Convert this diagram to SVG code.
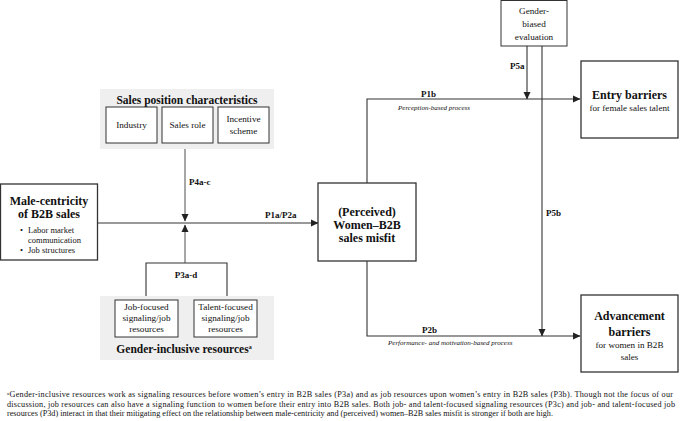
<svg xmlns="http://www.w3.org/2000/svg" width="685" height="421" viewBox="0 0 685 421">
<defs>
<marker id="ah" markerWidth="8" markerHeight="8" refX="7" refY="4" orient="auto" markerUnits="userSpaceOnUse">
<path d="M0,0.5 L7.5,4 L0,7.5 Z" fill="#222"/>
</marker>
</defs>
<style>
text{font-family:"Liberation Serif","Times New Roman",serif;fill:#111}
.box{fill:#fff;stroke:#333;stroke-width:1.3}
.sbox{fill:#fff;stroke:#333;stroke-width:1}
.grp{fill:#efefef;stroke:none}
.hd{font-size:12px;font-weight:bold;text-anchor:middle}
.gh{font-size:11.5px;font-weight:bold;text-anchor:middle}
.bt{font-size:9.2px;text-anchor:middle}
.sub{font-size:9.1px;text-anchor:middle}
.bl{font-size:8.5px}
.pl{font-size:9px;font-weight:bold}
.it{font-size:7px;font-style:italic}
.fn{font-size:8.2px}
.ln{fill:none;stroke:#333;stroke-width:1.1}
.lg{fill:none;stroke:#777;stroke-width:1.3}
</style>
<rect width="685" height="421" fill="#fff"/>

<g id="connectors">
<path class="lg" d="M98,223 H318" marker-end="url(#ah)"/>
<path class="lg" d="M185,149 V221" marker-end="url(#ah)"/>
<path class="lg" d="M185,263 V225" marker-end="url(#ah)"/>
<path class="ln" d="M146,296 V263 H227 V296"/>
<path class="ln" d="M367,183 V99 H580" marker-end="url(#ah)"/>
<path class="ln" d="M367,261 V336 H580" marker-end="url(#ah)"/>
<path class="ln" d="M527,46 V99" marker-end="url(#ah)"/>
<path class="ln" d="M542,46 V336" marker-end="url(#ah)"/>
<text class="pl" x="189" y="185">P4a-c</text>
<text class="pl" x="265" y="218">P1a/P2a</text>
<text class="pl" x="186" y="278" text-anchor="middle">P3a-d</text>
<text class="pl" x="510" y="69">P5a</text>
<text class="pl" x="421" y="97">P1b</text>
<text class="it" x="398" y="110">Perception-based process</text>
<text class="pl" x="546" y="216">P5b</text>
<text class="pl" x="422" y="333">P2b</text>
<text class="it" x="388" y="345">Performance- and motivation-based process</text>
</g>

<g id="sales-position">
<rect class="grp" x="100" y="89" width="174" height="60"/>
<text class="gh" x="187" y="104">Sales position characteristics</text>
<rect class="sbox" x="106" y="107" width="51" height="36"/>
<text class="bt" x="131.5" y="128">Industry</text>
<rect class="sbox" x="162" y="107" width="51" height="36"/>
<text class="bt" x="187.5" y="128">Sales role</text>
<rect class="sbox" x="218" y="107" width="51" height="36"/>
<text class="bt" x="243.5" y="122">Incentive</text>
<text class="bt" x="243.5" y="134">scheme</text>
</g>

<g id="male-centricity">
<rect class="box" x="0.5" y="184" width="97" height="76"/>
<text class="hd" x="49" y="205">Male-centricity</text>
<text class="hd" x="49" y="218">of B2B sales</text>
<text class="bl" x="20" y="233">•</text>
<text class="bl" x="28" y="233">Labor market</text>
<text class="bl" x="28" y="243">communication</text>
<text class="bl" x="20" y="253">•</text>
<text class="bl" x="28" y="253">Job structures</text>
</g>

<g id="gender-inclusive">
<rect class="grp" x="100" y="296" width="174" height="64"/>
<rect class="sbox" x="115" y="300" width="63" height="37"/>
<text class="bt" x="146.5" y="310">Job-focused</text>
<text class="bt" x="146.5" y="321">signaling/job</text>
<text class="bt" x="146.5" y="332">resources</text>
<rect class="sbox" x="194" y="300" width="63" height="37"/>
<text class="bt" x="225.5" y="310">Talent-focused</text>
<text class="bt" x="225.5" y="321">signaling/job</text>
<text class="bt" x="225.5" y="332">resources</text>
<text class="gh" x="184" y="353">Gender-inclusive resources<tspan font-size="6" dy="-4">a</tspan></text>
</g>

<g id="misfit">
<rect class="box" x="318" y="183" width="98" height="78"/>
<text class="hd" x="367" y="216">(Perceived)</text>
<text class="hd" x="367" y="229">Women–B2B</text>
<text class="hd" x="367" y="242">sales misfit</text>
</g>

<g id="gender-biased">
<rect class="sbox" x="501" y="0.5" width="66" height="45.5"/>
<text class="bt" x="534" y="14">Gender-</text>
<text class="bt" x="534" y="27">biased</text>
<text class="bt" x="534" y="40">evaluation</text>
</g>

<g id="entry-barriers">
<rect class="box" x="581" y="61" width="97" height="77"/>
<text class="hd" x="629.5" y="99">Entry barriers</text>
<text class="sub" x="629.5" y="111">for female sales talent</text>
</g>

<g id="advancement-barriers">
<rect class="box" x="581" y="295" width="97" height="77"/>
<text class="hd" x="629.5" y="320">Advancement</text>
<text class="hd" x="629.5" y="336">barriers</text>
<text class="sub" x="629.5" y="348">for women in B2B</text>
<text class="sub" x="629.5" y="360">sales</text>
</g>

<g id="footnote">
<text class="fn" x="7" y="397" textLength="666" lengthAdjust="spacing"><tspan font-size="5" dy="-2.5">a</tspan><tspan dy="2.5">Gender-inclusive resources work as signaling resources before women’s entry in B2B sales (P3a) and as job resources upon women’s entry in B2B sales (P3b). Though not the focus of our</tspan></text>
<text class="fn" x="7" y="406.5" textLength="668" lengthAdjust="spacing">discussion, job resources can also have a signaling function to women before their entry into B2B sales. Both job- and talent-focused signaling resources (P3c) and job- and talent-focused job</text>
<text class="fn" x="7" y="416">resources (P3d) interact in that their mitigating effect on the relationship between male-centricity and (perceived) women–B2B sales misfit is stronger if both are high.</text>
</g>
</svg>
